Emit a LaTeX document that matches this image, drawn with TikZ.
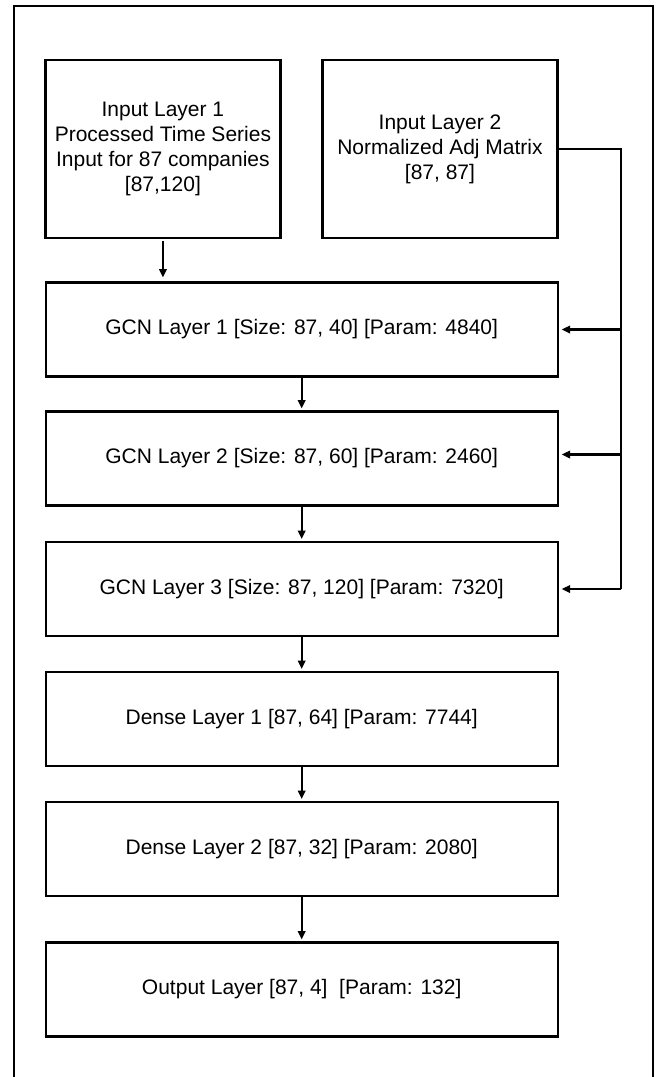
\documentclass[tikz,border=0pt]{standalone}
\usepackage{fontspec}
\setmainfont{Liberation Sans}
\usetikzlibrary{arrows.meta}

\tikzset{
  layer/.style={draw=black, line width=2.3pt, fill=white, align=center,
    inner sep=0pt, outer sep=0pt, font=\fontsize{21}{25}\selectfont},
  inbox/.style={layer, minimum width=235pt, minimum height=178pt},
  widebox/.style={layer, minimum width=512pt, minimum height=94pt},
  link/.style={line width=2.3pt, -{Triangle[length=8.5pt,width=7.5pt]}},
  feed/.style={line width=2.6pt},
  frame/.style={line width=2pt}
}

\begin{document}
\begin{tikzpicture}[x=1pt, y=-1pt]
  \useasboundingbox (0,0) rectangle (659,1077);

  % open outer frame, running off the bottom edge
  \draw[frame] (14,1080) -- (14,6) -- (653,6) -- (653,1080);

  % input layers
  \node[inbox] (in1) at (162.9,149) {Input Layer 1\\Processed Time Series\\Input for 87 companies\\{[}87,120{]}};
  \node[inbox] (in2) at (440,149) {Input Layer 2\\Normalized Adj Matrix\\{[}87, 87{]}};

  % stacked layers
  \node[widebox] (gcn1) at (301.7,329.5) {GCN Layer 1 [Size: 87, 40] [Param: 4840]};
  \node[widebox] (gcn2) at (301.7,458.5) {GCN Layer 2 [Size: 87, 60] [Param: 2460]};
  \node[widebox] (gcn3) at (301.7,589) {GCN Layer 3 [Size: 87, 120] [Param: 7320]};
  \node[widebox] (den1) at (301.7,719) {Dense Layer 1 [87, 64] [Param: 7744]};
  \node[widebox] (den2) at (301.7,849) {Dense Layer 2 [87, 32] [Param: 2080]};
  \node[widebox] (out)  at (301.7,989.5) {Output Layer [87, 4]\ \ [Param: 132]};

  % main flow
  \draw[link, shorten <=3pt, shorten >=5pt] (in1.south) -- (in1.south |- gcn1.north);
  \draw[link, shorten >=3pt] (gcn1) -- (gcn2);
  \draw[link, shorten >=3pt] (gcn2) -- (gcn3);
  \draw[link, shorten >=3pt] (gcn3) -- (den1);
  \draw[link, shorten >=3pt] (den1) -- (den2);
  \draw[link, shorten >=3pt] (den2) -- (out);

  % adjacency matrix fed to every GCN layer
  \coordinate (bus) at (621,149);
  \draw[feed] (in2.east) -- (bus) -- (bus |- gcn3.east);
  \draw[link, shorten >=4pt] (bus |- gcn1.east) -- (gcn1.east);
  \draw[link, shorten >=4pt] ([yshift=4pt]bus |- gcn2.east) -- ([yshift=4pt]gcn2.east);
  \draw[link, shorten >=4pt] (bus |- gcn3.east) -- (gcn3.east);
\end{tikzpicture}
\end{document}
